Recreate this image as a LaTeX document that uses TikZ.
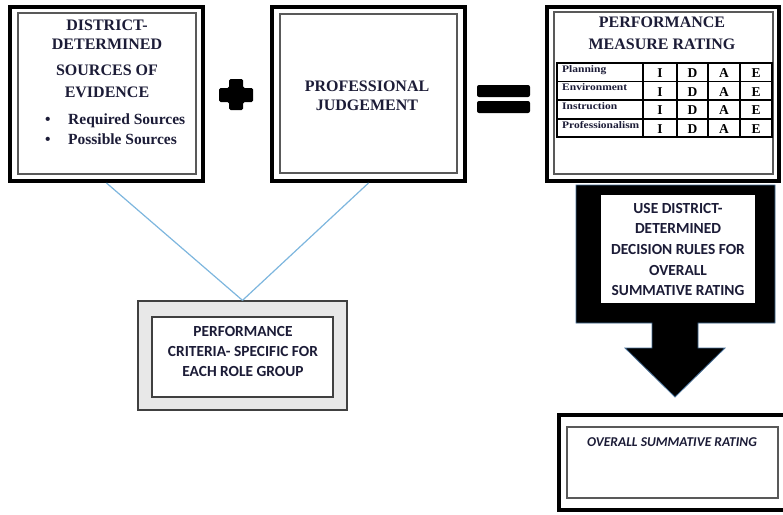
\documentclass[tikz,border=0pt]{standalone}
\usepackage{fontspec}
\setmainfont{Liberation Serif}
\newfontfamily\calibfont{Carlito}
\definecolor{txt}{RGB}{28,28,55}
\definecolor{linkblue}{RGB}{125,182,222}
\definecolor{arrowedge}{RGB}{70,110,150}
\begin{document}
\begin{tikzpicture}[x=1pt,y=-1pt,
  outerframe/.style={draw=black, line width=4pt, fill=white, inner sep=0pt},
  innerframe/.style={draw=black!65, line width=1.3pt, inner sep=0pt},
  serifbig/.style={text=txt, font=\fontsize{16}{18}\selectfont\bfseries, anchor=base, inner sep=0pt},
  seriflist/.style={text=txt, font=\fontsize{15.5}{18}\selectfont\bfseries, anchor=base west, inner sep=0pt},
  sansbold/.style={text=txt, font=\calibfont\fontsize{15.4}{18}\selectfont\bfseries, anchor=base, inner sep=0pt},
  rowlabel/.style={text=txt, font=\fontsize{10}{11}\selectfont\bfseries, anchor=base west, inner sep=0pt},
  cellletter/.style={text=black, font=\fontsize{13.5}{14}\selectfont\bfseries, anchor=base, inner sep=0pt},
  connector/.style={draw=linkblue, line width=1.2pt},
  tablegrid/.style={draw=black, line width=1.2pt}]
\useasboundingbox (0,0) rectangle (783,514);
\begin{scope}
\clip (0,0) rectangle (783,514);

% ---- Box 1 ----
\node[outerframe, minimum width=193pt, minimum height=174pt] (b1) at (106.5,94) {};
\node[innerframe, minimum width=178pt, minimum height=161pt] (b1in) at (107,93.5) {};
\node[serifbig] (t1a) at (107,30) {DISTRICT-};
\node[serifbig] (t1b) at (107,49) {DETERMINED};
\node[serifbig] (t1c) at (107,75) {SOURCES OF};
\node[serifbig] (t1d) at (107,97) {EVIDENCE};
\node[seriflist] (bu1) at (45,124) {\textbullet};
\node[seriflist] (bu2) at (45,144) {\textbullet};
\node[seriflist] (t1e) at (68,124) {Required Sources};
\node[seriflist] (t1f) at (68,144) {Possible Sources};

% ---- plus sign ----
\fill[black, rounded corners=1.5pt] (229,79) -- (243,79) -- (243,88) -- (253,88) -- (253,102) -- (243,102) -- (243,110) -- (229,110) -- (229,102) -- (219,102) -- (219,88) -- (229,88) -- cycle;

% ---- Box 2 ----
\node[outerframe, minimum width=193pt, minimum height=174pt] (b2) at (368.5,94) {};
\node[innerframe, minimum width=177pt, minimum height=159pt] (b2in) at (368.5,93.5) {};
\node[serifbig] (t2a) at (367,91) {PROFESSIONAL};
\node[serifbig] (t2b) at (367,110) {JUDGEMENT};

% ---- equals sign ----
\fill[black, rounded corners=2pt] (477,85) rectangle (530,97);
\fill[black, rounded corners=2pt] (477,101) rectangle (530,113);

% ---- Box 3 ----
\node[outerframe, minimum width=232pt, minimum height=174pt] (b3) at (663,94) {};
\node[innerframe, minimum width=219pt, minimum height=162pt] (b3in) at (663.5,93) {};
\node[serifbig] (t3a) at (662,27) {PERFORMANCE};
\node[serifbig] (t3b) at (662,49) {MEASURE RATING};
\draw[tablegrid] (557,63) rectangle (772,137);
\foreach \yy in {81.5,100,119} \draw[tablegrid] (557,\yy) -- (772,\yy);
\foreach \xx in {643,677,708,740} \draw[tablegrid] (\xx,63) -- (\xx,137);
\node[rowlabel] (r1) at (562,72) {\scalebox{1.15}[1]{Planning}};
\node[rowlabel] (r2) at (562,90) {\scalebox{1.15}[1]{Environment}};
\node[rowlabel] (r3) at (562,109) {\scalebox{1.15}[1]{Instruction}};
\node[rowlabel] (r4) at (562,128) {\scalebox{1.15}[1]{Professionalism}};
\foreach \yy [count=\k] in {77.5,96,114.5,133} {
  \node[cellletter] (ci\k) at (660,\yy) {I};
  \node[cellletter] (cd\k) at (692.5,\yy) {D};
  \node[cellletter] (ca\k) at (724,\yy) {A};
  \node[cellletter] (ce\k) at (756,\yy) {E};
}

% ---- big arrow ----
\draw[fill=black, draw=arrowedge, line width=0.8pt] (576,185) -- (775,185) -- (775,323) -- (698,323) -- (698,348) -- (725,348) -- (675,397) -- (625,348) -- (652,348) -- (652,323) -- (576,323) -- cycle;
\node[fill=white, minimum width=154pt, minimum height=108pt, inner sep=0pt] (arrbox) at (678,249) {};
\node[sansbold] (ta1) at (678,213) {USE DISTRICT-};
\node[sansbold] (ta2) at (678,233.5) {DETERMINED};
\node[sansbold] (ta3) at (678,254.5) {DECISION RULES FOR};
\node[sansbold] (ta4) at (678,275) {OVERALL};
\node[sansbold] (ta5) at (678,295) {SUMMATIVE RATING};

% ---- Box 4 ----
\node[outerframe, minimum width=241pt, minimum height=95pt] (b4) at (679.5,462.5) {};
\node[innerframe, minimum width=211pt, minimum height=71pt] (b4in) at (672.5,462.5) {};
\node[text=txt, font=\calibfont\fontsize{13.5}{15}\selectfont\bfseries\itshape, anchor=base, inner sep=0pt] (t4) at (672,446.5) {OVERALL SUMMATIVE RATING};

% ---- Box 5 ----
\node[draw=black!75, fill=black!9, line width=1.3pt, minimum width=209pt, minimum height=109pt, inner sep=0pt] (b5) at (242.5,355.5) {};
\node[draw=black!75, fill=white, line width=1.3pt, minimum width=181pt, minimum height=80pt, inner sep=0pt] (b5in) at (242.5,357) {};
\node[sansbold] (t5a) at (243,336) {PERFORMANCE};
\node[sansbold] (t5b) at (243,356) {CRITERIA- SPECIFIC FOR};
\node[sansbold] (t5c) at (243,376) {EACH ROLE GROUP};

% ---- connectors ----
\draw[connector] (b1.south) -- (b5.north);
\draw[connector] (b2.south) -- (b5.north);
\end{scope}
\end{tikzpicture}
\end{document}
